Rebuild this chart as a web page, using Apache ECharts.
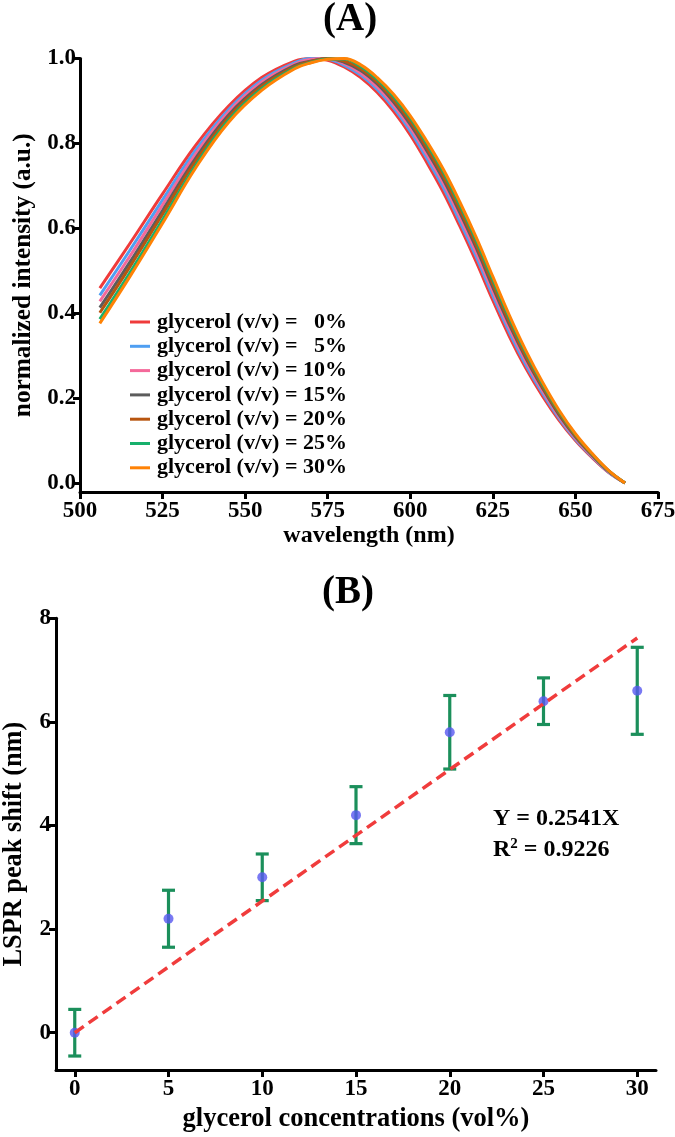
<!DOCTYPE html>
<html>
<head>
<meta charset="utf-8">
<title>LSPR glycerol response</title>
<script src="https://cdn.jsdelivr.net/npm/echarts@6/dist/echarts.min.js"></script>
<style>
  html, body { margin: 0; padding: 0; background: #fff; }
  #chart { width: 675px; height: 1137px; }
</style>
</head>
<body>
<div id="chart"></div>
<script>
// --- panel A: normalized extinction spectra ---
var wavelength = [506, 515, 525, 535, 545, 555, 565, 570, 575, 580, 585, 590, 595, 600, 605, 610, 615, 620, 625, 630, 635, 640, 645, 650, 655, 660, 665];
var glycerol0  = [0.459, 0.563, 0.681, 0.795, 0.888, 0.955, 0.994, 1.000, 0.996, 0.980, 0.955, 0.920, 0.875, 0.820, 0.755, 0.685, 0.605, 0.520, 0.430, 0.345, 0.270, 0.205, 0.148, 0.100, 0.060, 0.025, 0];
var glycerol5  = [0.442, 0.547, 0.667, 0.784, 0.880, 0.949, 0.990, 1.000, 0.998, 0.984, 0.961, 0.927, 0.883, 0.829, 0.765, 0.696, 0.616, 0.532, 0.441, 0.355, 0.278, 0.212, 0.153, 0.103, 0.062, 0.026, 0];
var glycerol10 = [0.428, 0.533, 0.655, 0.775, 0.874, 0.944, 0.987, 0.998, 1.000, 0.988, 0.966, 0.933, 0.890, 0.837, 0.774, 0.706, 0.627, 0.542, 0.451, 0.364, 0.286, 0.218, 0.157, 0.106, 0.064, 0.027, 0];
var glycerol15 = [0.413, 0.519, 0.642, 0.765, 0.867, 0.938, 0.984, 0.994, 1.000, 0.991, 0.972, 0.940, 0.897, 0.845, 0.783, 0.715, 0.637, 0.553, 0.461, 0.373, 0.294, 0.224, 0.161, 0.109, 0.066, 0.028, 0];
var glycerol20 = [0.401, 0.508, 0.633, 0.758, 0.861, 0.934, 0.981, 0.993, 1.000, 0.994, 0.976, 0.945, 0.903, 0.852, 0.790, 0.723, 0.645, 0.561, 0.469, 0.380, 0.299, 0.228, 0.165, 0.111, 0.067, 0.029, 0];
var glycerol25 = [0.386, 0.494, 0.620, 0.748, 0.855, 0.929, 0.978, 0.991, 0.999, 0.999, 0.981, 0.951, 0.910, 0.860, 0.799, 0.733, 0.655, 0.571, 0.479, 0.389, 0.307, 0.234, 0.169, 0.114, 0.069, 0.029, 0];
var glycerol30 = [0.376, 0.485, 0.612, 0.742, 0.850, 0.925, 0.976, 0.990, 0.998, 1.000, 0.985, 0.955, 0.915, 0.865, 0.805, 0.739, 0.662, 0.578, 0.486, 0.395, 0.312, 0.238, 0.172, 0.116, 0.070, 0.030, 0];
var spectraNames = [
  "glycerol (v/v) =   0%", "glycerol (v/v) =   5%", "glycerol (v/v) = 10%",
  "glycerol (v/v) = 15%", "glycerol (v/v) = 20%", "glycerol (v/v) = 25%", "glycerol (v/v) = 30%"
];
var intensityTicks = [0, 0.2, 0.4, 0.6, 0.8, 1.0];

// --- panel B: peak shift vs glycerol ---
var concentration = [0, 5, 10, 15, 20, 25, 30];
var peakShift  = [0, 2.2, 3.0, 4.2, 5.8, 6.4, 6.6];
var shiftError = [0.45, 0.55, 0.45, 0.55, 0.71, 0.45, 0.84];
var fitX = [0, 30];
var fitY = [0, 7.62];
var concTicks  = [0, 5, 10, 15, 20, 25, 30];
var shiftTicks = [0, 2, 4, 6, 8];

var FONT = '"Liberation Serif", "Times New Roman", serif';
var colors = ["#ef3b3b", "#4f9ff2", "#f4699a", "#5c5c5c", "#b8550f", "#17b06c", "#ff8205"];

function pairs(xs, ys) { return xs.map(function (x, i) { return [x, ys[i]]; }); }

// Prism-like axes: thick black line, outside ticks, never pinned to zero
var axisLine = { show: true, onZero: false, lineStyle: { color: "#000", width: 3 } };
function ticks(values) {
  var t = { show: true, length: 7, lineStyle: { color: "#000", width: 3 } };
  if (values) t.customValues = values;
  return t;
}
function lbl(size, margin, extra) {
  var o = { color: "#000", fontFamily: FONT, fontWeight: "bold", fontSize: size, margin: margin };
  for (var k in extra) o[k] = extra[k];
  return o;
}
function nameStyle(size) { return { color: "#000", fontFamily: FONT, fontWeight: "bold", fontSize: size }; }

var spectra = [glycerol0, glycerol5, glycerol10, glycerol15, glycerol20, glycerol25, glycerol30];
var lineSeries = spectra.map(function (vals, i) {
  return {
    name: spectraNames[i], type: "line", xAxisIndex: 0, yAxisIndex: 0,
    data: pairs(wavelength, vals), showSymbol: false, smooth: 0.4,
    lineStyle: { width: 3, color: colors[i] }, itemStyle: { color: colors[i] },
    emphasis: { disabled: true }, z: 2 + i
  };
});

var chart = echarts.init(document.getElementById("chart"), null, { renderer: "canvas" });
chart.setOption({
  backgroundColor: "#fff",
  animation: false,
  grid: [
    { left: 80, right: 17, top: 58.5, bottom: 645, outerBoundsMode: "none", containLabel: false },
    { left: 56, right: 19, top: 618.3, bottom: 67, outerBoundsMode: "none", containLabel: false }
  ],
  legend: {
    data: spectraNames, left: 125, top: 306, orient: "vertical",
    icon: "rect", itemWidth: 20, itemHeight: 3, itemGap: 2.3, selectedMode: false,
    textStyle: { color: "#000", fontFamily: FONT, fontWeight: "bold", fontSize: 22, lineHeight: 22, padding: [0, 0, 0, 2] }
  },
  xAxis: [
    {
      gridIndex: 0, type: "value", min: 500, max: 675, interval: 25,
      name: "wavelength (nm)", nameLocation: "middle", nameGap: 28, nameTextStyle: nameStyle(24),
      axisLine: axisLine, axisTick: ticks(), splitLine: { show: false },
      axisLabel: lbl(23, 8, {})
    },
    {
      gridIndex: 1, type: "value", min: -1, max: 31,
      name: "glycerol concentrations (vol%)", nameLocation: "middle", nameGap: 36, nameTextStyle: nameStyle(26.5),
      axisLine: axisLine, axisTick: ticks(concTicks), splitLine: { show: false },
      axisLabel: lbl(23, 8, { customValues: concTicks })
    }
  ],
  yAxis: [
    {
      gridIndex: 0, type: "value", min: -0.0212, max: 1.0,
      name: "normalized intensity (a.u.)", nameLocation: "middle", nameGap: 41, nameTextStyle: nameStyle(25.3),
      axisLine: axisLine, axisTick: ticks(intensityTicks), splitLine: { show: false },
      axisLabel: lbl(23, 4, { customValues: intensityTicks, formatter: function (v) { return v.toFixed(1); } })
    },
    {
      gridIndex: 1, type: "value", min: -0.72, max: 8,
      name: "LSPR peak shift (nm)", nameLocation: "middle", nameGap: 29, nameTextStyle: nameStyle(26.3),
      axisLine: axisLine, axisTick: ticks(shiftTicks), splitLine: { show: false },
      axisLabel: lbl(23, 5, { customValues: shiftTicks })
    }
  ],
  graphic: [
    { type: "text", left: 323, top: 0, style: { text: "(A)", fill: "#000", font: "bold 39px " + FONT } },
    { type: "text", left: 322, top: 573, style: { text: "(B)", fill: "#000", font: "bold 39px " + FONT } },
    { type: "text", left: 493, top: 807, style: { text: "Y = 0.2541X", fill: "#000", font: "bold 24px " + FONT } },
    {
      type: "text", left: 493, top: 837,
      style: {
        text: "R{sup|2} = 0.9226", fill: "#000", font: "bold 24px " + FONT,
        rich: { sup: { fontFamily: FONT, fontWeight: "bold", fontSize: 15, verticalAlign: "top", padding: [0, 0, 10, 0] } }
      }
    }
  ],
  series: lineSeries.concat([
    {
      type: "custom", xAxisIndex: 1, yAxisIndex: 1, z: 3,
      data: concentration.map(function (c, i) { return [c, peakShift[i] - shiftError[i], peakShift[i] + shiftError[i]]; }),
      renderItem: function (params, api) {
        var lo = api.coord([api.value(0), api.value(1)]);
        var hi = api.coord([api.value(0), api.value(2)]);
        var cap = 6.5;
        var st = { stroke: "#1b8f5b", lineWidth: 3.2 };
        return {
          type: "group",
          children: [
            { type: "line", shape: { x1: lo[0], y1: lo[1], x2: hi[0], y2: hi[1] }, style: st },
            { type: "line", shape: { x1: lo[0] - cap, y1: lo[1], x2: lo[0] + cap, y2: lo[1] }, style: st },
            { type: "line", shape: { x1: hi[0] - cap, y1: hi[1], x2: hi[0] + cap, y2: hi[1] }, style: st }
          ]
        };
      }
    },
    {
      type: "scatter", xAxisIndex: 1, yAxisIndex: 1, z: 4,
      data: pairs(concentration, peakShift), symbol: "circle", symbolSize: 10,
      itemStyle: { color: "#5858f0" }, emphasis: { disabled: true }
    },
    {
      type: "line", xAxisIndex: 1, yAxisIndex: 1, z: 5,
      data: pairs(fitX, fitY), showSymbol: false,
      lineStyle: { color: "#f03c3c", width: 3.5, type: [11, 6] }, emphasis: { disabled: true }
    }
  ])
});
</script>
</body>
</html>
